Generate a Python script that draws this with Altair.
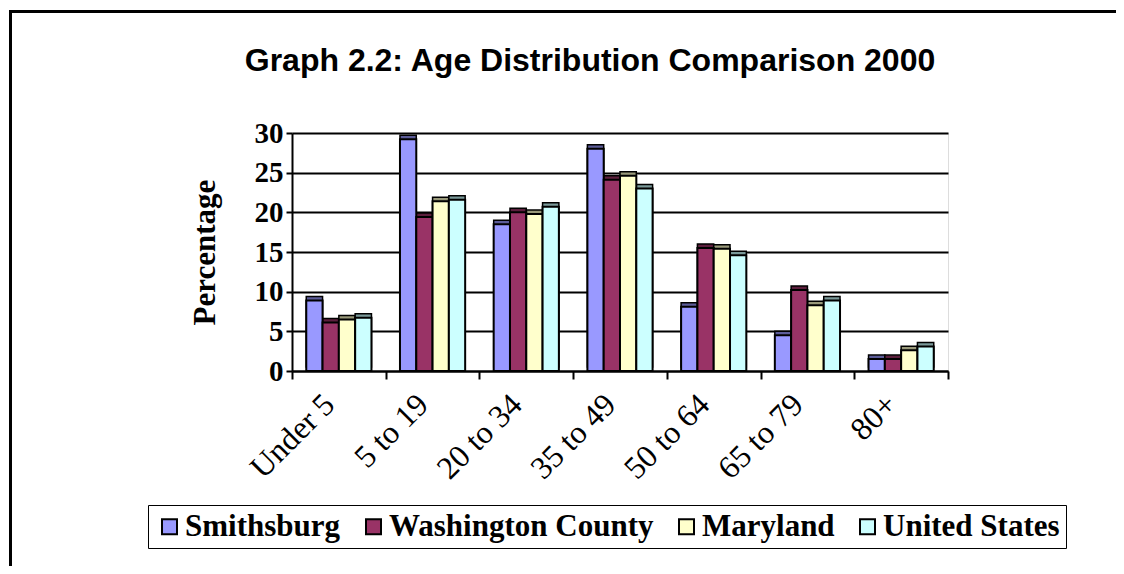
import altair as alt
import pandas as pd

categories = ["Under 5", "5 to 19", "20 to 34", "35 to 49", "50 to 64", "65 to 79", "80+"]
series_names = ["Smithsburg", "Washington County", "Maryland", "United States"]
smithsburg = [8.9, 29.2, 18.5, 28.0, 8.1, 4.5, 1.5]
washington_county = [6.1, 19.4, 20.0, 24.1, 15.5, 10.2, 1.5]
maryland = [6.5, 21.4, 19.8, 24.6, 15.4, 8.3, 2.6]
united_states = [6.7, 21.6, 20.7, 23.0, 14.6, 8.9, 3.1]
y_ticks = [0, 5, 10, 15, 20, 25, 30]
title_text = "Graph 2.2: Age Distribution Comparison 2000"

face_colors = ["#9999FF", "#993366", "#FFFFCC", "#CCFFFF"]
side_colors = ["#5C5C99", "#5C1F3D", "#99997A", "#7A9999"]

rows = []
for name, side, vals in zip(series_names, side_colors,
                            [smithsburg, washington_county, maryland, united_states]):
    for cat, v in zip(categories, vals):
        rows.append({"age": cat, "series": name, "pct": v, "side": side})
df = pd.DataFrame(rows)

x_enc = alt.X("age:N", sort=categories,
              scale=alt.Scale(paddingInner=0, paddingOuter=0),
              axis=alt.Axis(title=None, labelAngle=-45, labelAlign="right", labelBaseline="middle",
                            labelFont="Liberation Serif", labelFontSize=32, labelColor="black",
                            labelPadding=20, labelOffset=-10, tickBand="extent", tickSize=8,
                            tickWidth=2, tickColor="black", domainColor="black", domainWidth=2))
xoff_enc = alt.XOffset("series:N", sort=series_names,
                       scale=alt.Scale(domain=series_names, paddingOuter=0.875, paddingInner=0))
y_enc = alt.Y("pct:Q", scale=alt.Scale(domain=[0, 30], nice=False),
              axis=alt.Axis(values=y_ticks, title="Percentage", titleFont="Liberation Serif",
                            titleFontSize=31, titleFontWeight="bold", titleColor="black",
                            titleX=-87, titleY=119, titleAngle=270, titleAlign="center",
                            titleBaseline="middle",
                            labelFont="Liberation Serif", labelFontSize=29, labelFontWeight="bold",
                            labelColor="black", labelPadding=3, tickSize=6, tickWidth=2,
                            tickColor="black", domainColor="black", domainWidth=2,
                            grid=True, gridColor="black", gridWidth=2))

one = alt.Data(values=[{}])
frame_top = alt.Chart(one).mark_rect(fill="black", stroke=None).encode(
    x=alt.value(-283), x2=alt.value(900), y=alt.value(-123), y2=alt.value(-120))
frame_left = alt.Chart(one).mark_rect(fill="black", stroke=None).encode(
    x=alt.value(-283), x2=alt.value(-280), y=alt.value(-123), y2=alt.value(440))

title = alt.Chart(one).mark_text(
    text=title_text, font="Liberation Sans", fontSize=32, fontWeight="bold", color="black",
    align="center", baseline="alphabetic"
).encode(x=alt.value(298), y=alt.value(-62))

shadow = alt.Chart(df).mark_bar(xOffset=4, yOffset=-4, stroke="black", strokeWidth=1.5).encode(
    x=x_enc, xOffset=xoff_enc, y=y_enc,
    fill=alt.Fill("side:N", scale=None),
)

bars = alt.Chart(df).mark_bar(stroke="black", strokeWidth=2).encode(
    x=x_enc, xOffset=xoff_enc, y=y_enc,
    color=alt.Color("series:N", scale=alt.Scale(domain=series_names, range=face_colors),
                    legend=alt.Legend(title=None, orient="none", direction="horizontal",
                                      legendX=-144, legendY=372, columns=4,
                                      symbolType="square", symbolSize=225,
                                      symbolStrokeColor="black", symbolStrokeWidth=2,
                                      symbolOpacity=1,
                                      labelFont="Liberation Serif", labelFontSize=31,
                                      labelFontWeight="bold", labelColor="black",
                                      labelOffset=0, columnPadding=17, padding=6,
                                      strokeColor="black", labelLimit=400)),
)

chart = alt.layer(frame_top, frame_left, title, shadow, bars).properties(
    width=656, height=238,
    padding={"left": 284, "top": 125, "right": 168, "bottom": 195},
    autosize=alt.AutoSizeParams(type="none"),
).configure_view(fill="#C0C0C0", stroke="#808080", strokeWidth=2).configure(background="white")

chart.save("out.html", embed_options={"renderer": "svg", "actions": False})
